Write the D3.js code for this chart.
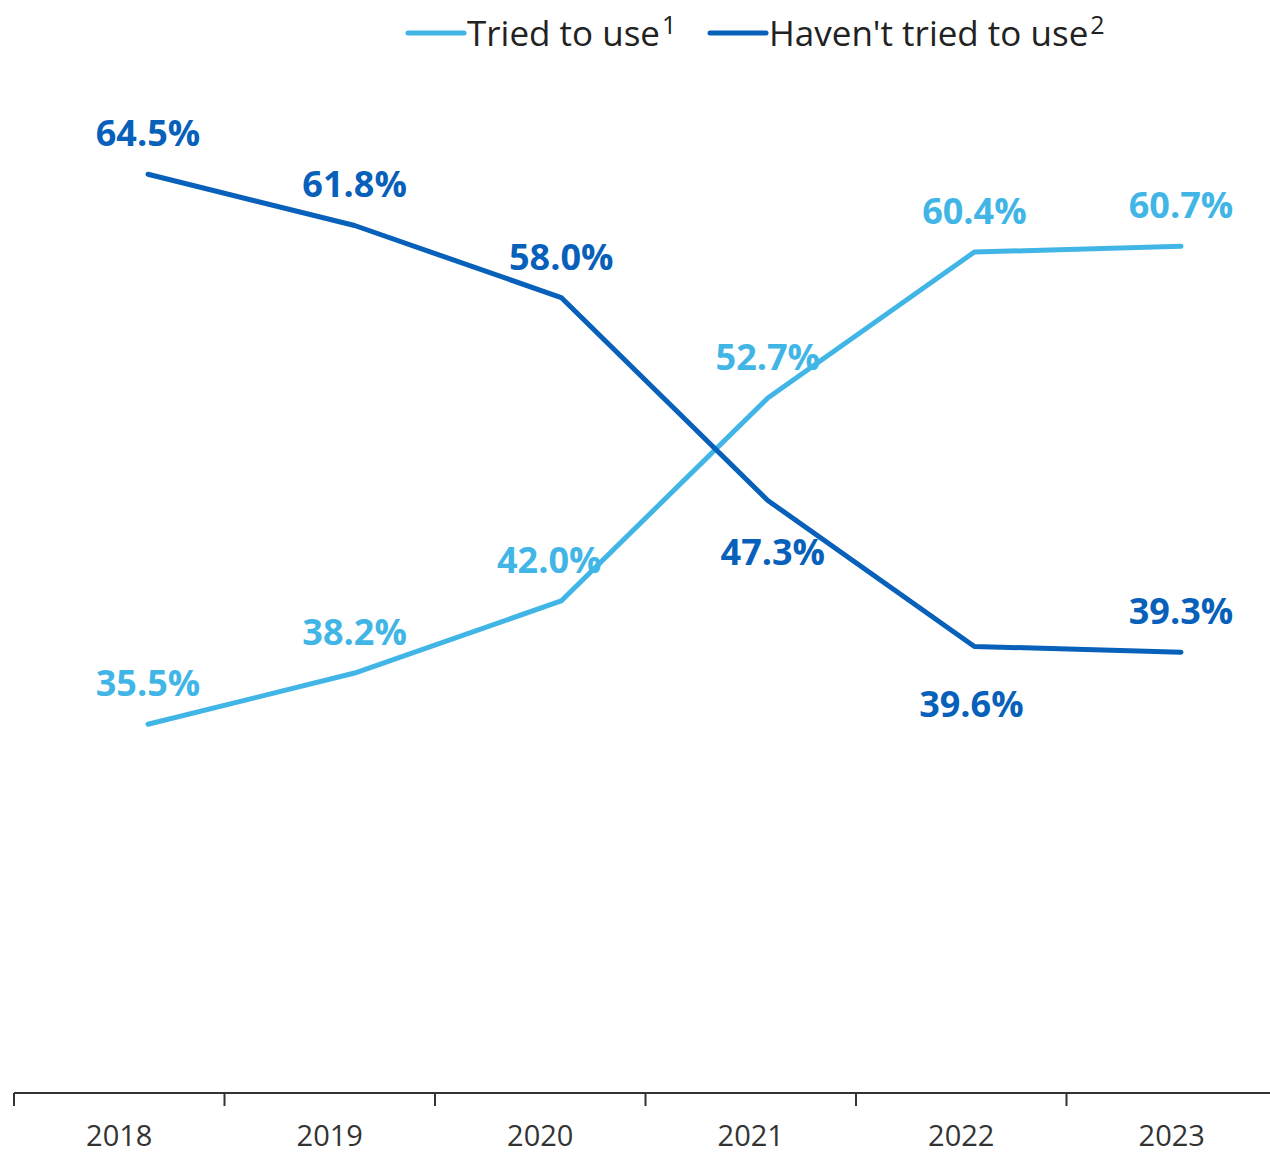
<!DOCTYPE html>
<html>
<head>
<meta charset="utf-8">
<script src="https://cdn.jsdelivr.net/npm/d3@7/dist/d3.min.js"></script>
<style>
  html, body { margin: 0; padding: 0; background: #ffffff; }
  svg { display: block; }
</style>
</head>
<body>
<script>
// Survey years and the share of respondents in each group (%)
const years = ["2018", "2019", "2020", "2021", "2022", "2023"];
const triedValues = [35.5, 38.2, 42.0, 52.7, 60.4, 60.7];
const notTriedValues = [64.5, 61.8, 58.0, 47.3, 39.6, 39.3];

const seriesNames = ["Tried to use", "Haven't tried to use"];
const seriesNotes = ["1", "2"];
const colors = ["#41b6e6", "#0760b9"];

const W = 1270, H = 1153;
const svg = d3.select("body").append("svg").attr("width", W).attr("height", H);

// Category axis (bands) and the point positions of the lines
const xBand = d3.scaleBand().domain(years).range([14, 1277]);
const xPoint = d3.scalePoint().domain(years).range([148, 1181]);
const y = d3.scaleLinear().domain([16, 70]).range([1094, 70]);

// X axis
const axis = svg.append("g")
  .attr("transform", "translate(0,1093)")
  .call(d3.axisBottom(xBand).tickSize(0).tickPadding(32));
axis.select(".domain").attr("stroke", "#333").attr("stroke-width", 2).attr("d", "M14,0H1270");
axis.selectAll("text")
  .attr("font-family", "'Open Sans', sans-serif")
  .attr("font-size", 29)
  .attr("fill", "#333");
// band separators
axis.selectAll("line.sep")
  .data(years)
  .enter().append("line")
  .attr("class", "sep")
  .attr("x1", d => xBand(d)).attr("x2", d => xBand(d))
  .attr("y1", 0).attr("y2", 13)
  .attr("stroke", "#333").attr("stroke-width", 2);

const series = [
  { key: "tried", values: triedValues, color: colors[0] },
  { key: "notTried", values: notTriedValues, color: colors[1] }
];

// Label nudges where the two lines cross or sit close together
const labelNudge = {
  "tried-2020": { dx: -12, dy: -28 },
  "notTried-2021": { dx: 5, dy: 65 },
  "notTried-2022": { dx: -3, dy: 71 }
};
const nudge = (key, yr) => labelNudge[`${key}-${yr}`] || { dx: 0, dy: -28 };

const line = d3.line()
  .x((d, i) => xPoint(years[i]))
  .y(d => y(d));

series.forEach(s => {
  svg.append("path")
    .datum(s.values)
    .attr("d", line)
    .attr("fill", "none")
    .attr("stroke", s.color)
    .attr("stroke-width", 5)
    .attr("stroke-linejoin", "round")
    .attr("stroke-linecap", "round");
});

series.forEach(s => {
  svg.append("g").selectAll("text")
    .data(s.values)
    .enter().append("text")
    .attr("x", (d, i) => xPoint(years[i]) + nudge(s.key, years[i]).dx)
    .attr("y", (d, i) => y(d) + nudge(s.key, years[i]).dy)
    .attr("text-anchor", "middle")
    .attr("font-family", "'Open Sans', sans-serif")
    .attr("font-weight", 700)
    .attr("font-size", 36)
    .attr("fill", s.color)
    .text(d => d.toFixed(1) + "%");
});

// Legend
const legendX = [408, 710];
const legend = svg.append("g");
seriesNames.forEach((name, i) => {
  const g = legend.append("g").attr("transform", `translate(${legendX[i]},33)`);
  g.append("line")
    .attr("x1", 0).attr("x2", 56).attr("y1", 0).attr("y2", 0)
    .attr("stroke", colors[i]).attr("stroke-width", 5).attr("stroke-linecap", "round");
  const t = g.append("text")
    .attr("x", 59).attr("y", 13)
    .attr("font-family", "'Open Sans', sans-serif")
    .attr("font-size", 35)
    .attr("fill", "#222");
  t.append("tspan").text(name);
  t.append("tspan").attr("dx", 2).attr("dy", -12).attr("font-size", 25).text(seriesNotes[i]);
});
</script>
</body>
</html>
